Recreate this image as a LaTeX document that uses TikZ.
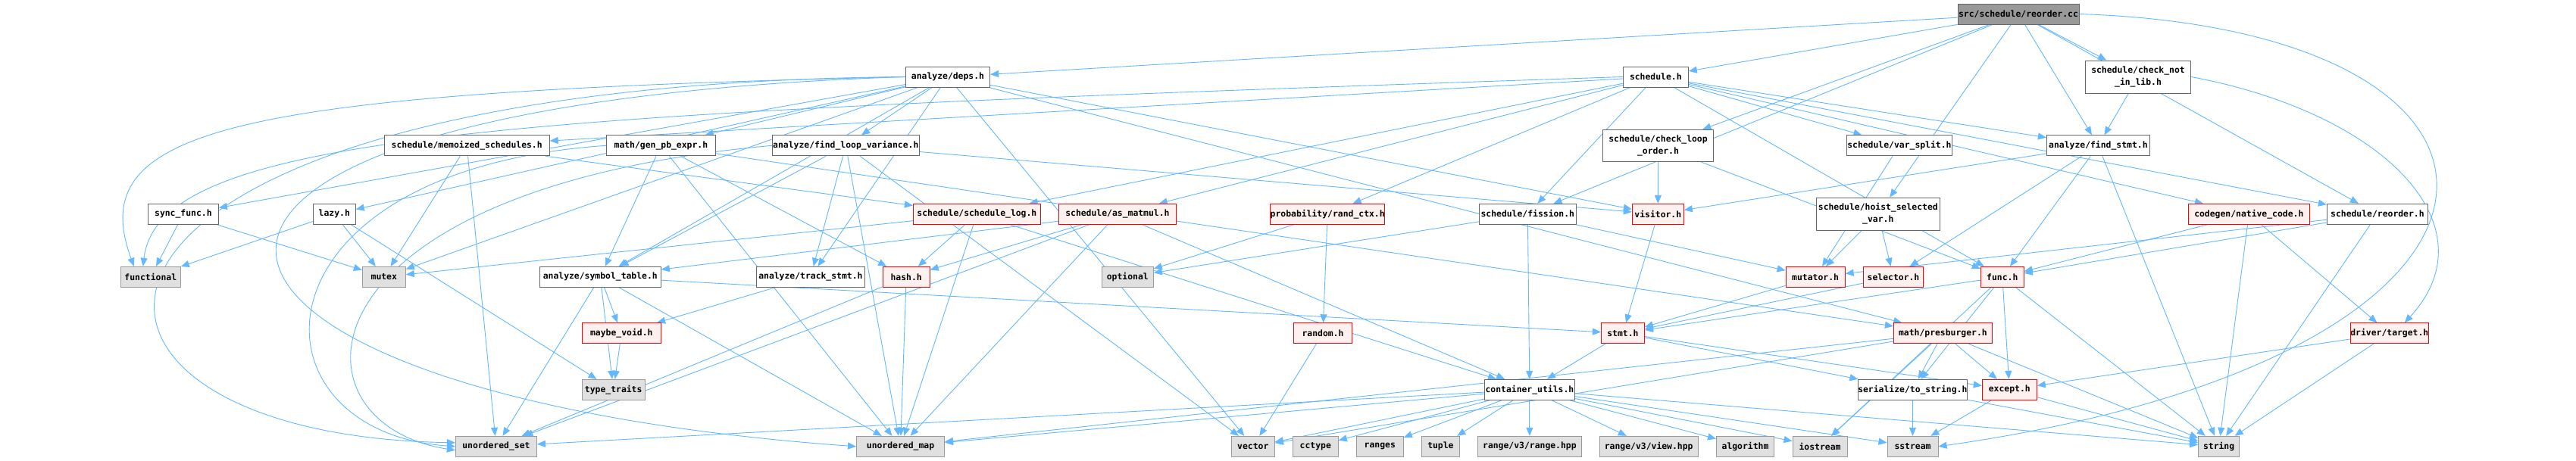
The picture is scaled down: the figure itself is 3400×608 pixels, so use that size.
\documentclass[tikz,border=0pt]{standalone}
\usepackage{fontspec}
\usetikzlibrary{arrows.meta}
\newfontfamily\dfont{DejaVu Sans Mono}
\definecolor{edgecol}{HTML}{63B8FF}
\definecolor{grayfill}{HTML}{E0E0E0}
\definecolor{grayline}{HTML}{999999}
\definecolor{darkline}{HTML}{666666}
\definecolor{redfill}{HTML}{FFF0F0}
\definecolor{srcfill}{HTML}{999999}
\pgfdeclarelayer{bg}
\pgfsetlayers{bg,main}
\tikzset{
  box/.style={line width=1pt, inner sep=0pt, align=center, minimum height=27pt,
    font=\dfont\bfseries\fontsize{11.4pt}{16pt}\selectfont},
  gnode/.style={box, draw=grayline, fill=grayfill},
  wnode/.style={box, draw=darkline, fill=white},
  rnode/.style={box, draw=red, fill=redfill},
  snode/.style={box, draw=darkline, fill=srcfill},
  dep/.style={draw=edgecol, line width=0.9pt, -{Triangle[length=11pt,width=9pt]}}
}
\begin{document}
\begin{tikzpicture}[x=1pt,y=-1pt]
\useasboundingbox (0,0) rectangle (3400,608);
% row 1
\node[snode, minimum width=160pt] (src) at (2664,18.5) {src/schedule/reorder.cc};
\node[wnode, minimum width=111pt] (deps) at (1251,101.5) {analyze/deps.h};
\node[wnode, minimum width=86pt] (schedule) at (2185.3,101.5) {schedule.h};
\node[wnode, minimum width=139pt, minimum height=43pt] (chknot) at (2822,101.5) {schedule/check\_not\\\_in\_lib.h};
% row 2
\node[wnode, minimum width=218pt] (memo) at (616.2,192.3) {schedule/memoized\_schedules.h};
\node[wnode, minimum width=144pt] (genpb) at (872.4,192.3) {math/gen\_pb\_expr.h};
\node[wnode, minimum width=194pt] (flv) at (1116.3,192.3) {analyze/find\_loop\_variance.h};
\node[wnode, minimum width=146pt, minimum height=42pt] (chkloop) at (2188.5,192.3) {schedule/check\_loop\\\_order.h};
\node[wnode, minimum width=139pt] (varsplit) at (2506.9,192.3) {schedule/var\_split.h};
\node[wnode, minimum width=136pt] (findstmt) at (2769.4,192.3) {analyze/find\_stmt.h};
% row 3
\node[wnode, minimum width=93pt] (syncfunc) at (241.9,282.8) {sync\_func.h};
\node[wnode, minimum width=56pt] (lazy) at (441.3,282.8) {lazy.h};
\node[rnode, minimum width=168pt] (schedlog) at (1289.4,282.8) {schedule/schedule\_log.h};
\node[rnode, minimum width=155pt] (asmatmul) at (1474.9,282.8) {schedule/as\_matmul.h};
\node[rnode, minimum width=148pt] (randctx) at (1752.2,282.8) {probability/rand\_ctx.h};
\node[wnode, minimum width=128pt] (fission) at (2016.3,282.8) {schedule/fission.h};
\node[rnode, minimum width=68pt] (visitor) at (2188.3,282.8) {visitor.h};
\node[wnode, minimum width=163pt, minimum height=43pt] (hoist) at (2478.8,282.7) {schedule/hoist\_selected\\\_var.h};
\node[rnode, minimum width=160pt] (native) at (2968.3,282.8) {codegen/native\_code.h};
\node[wnode, minimum width=133pt] (schreorder) at (3137.9,282.8) {schedule/reorder.h};
% row 4
\node[gnode, minimum width=79pt] (functional) at (198.8,365.8) {functional};
\node[gnode, minimum width=57pt] (mutex) at (506.8,365.8) {mutex};
\node[wnode, minimum width=160pt] (symtab) at (792.3,365.8) {analyze/symbol\_table.h};
\node[wnode, minimum width=143pt] (trackstmt) at (1069.9,365.8) {analyze/track\_stmt.h};
\node[rnode, minimum width=62pt] (hash) at (1196.2,365.8) {hash.h};
\node[gnode, minimum width=68pt] (optional) at (1488.3,365.8) {optional};
\node[rnode, minimum width=78pt] (mutator) at (2396.1,365.8) {mutator.h};
\node[rnode, minimum width=79pt] (selector) at (2499,365.8) {selector.h};
\node[rnode, minimum width=57pt] (func) at (2642.8,365.8) {func.h};
% row 5
\node[rnode, minimum width=104pt] (maybevoid) at (820.3,440.3) {maybe\_void.h};
\node[rnode, minimum width=77pt] (random) at (1746,440.3) {random.h};
\node[rnode, minimum width=57pt] (stmt) at (2141.9,440.3) {stmt.h};
\node[rnode, minimum width=130pt] (presburger) at (2564.4,440.3) {math/presburger.h};
\node[rnode, minimum width=103pt] (target) at (3153.8,440.3) {driver/target.h};
% row 6
\node[gnode, minimum width=83pt] (typetraits) at (809.7,514.8) {type\_traits};
\node[wnode, minimum width=119pt] (contutils) at (2018.9,514.8) {container\_utils.h};
\node[wnode, minimum width=136pt] (tostring) at (2524.3,514.8) {serialize/to\_string.h};
\node[rnode, minimum width=72pt] (except) at (2652.3,514.8) {except.h};
% row 7
\node[gnode, minimum width=107pt] (uset) at (654.9,589.8) {unordered\_set};
\node[gnode, minimum width=116pt] (umap) at (1188.5,589.8) {unordered\_map};
\node[gnode, minimum width=57pt] (vector) at (1653.8,589.8) {vector};
\node[gnode, minimum width=60pt] (cctype) at (1736.3,589.8) {cctype};
\node[gnode, minimum width=62pt] (ranges) at (1821.3,589.8) {ranges};
\node[gnode, minimum width=50pt] (tuple) at (1901.4,589.8) {tuple};
\node[gnode, minimum width=137pt] (rangehpp) at (2018.9,589.8) {range/v3/range.hpp};
\node[gnode, minimum width=130pt] (viewhpp) at (2176.2,589.8) {range/v3/view.hpp};
\node[gnode, minimum width=76pt] (algorithm) at (2303.5,589.8) {algorithm};
\node[gnode, minimum width=72pt] (iostream) at (2402,589.8) {iostream};
\node[gnode, minimum width=67pt] (sstream) at (2524.5,589.8) {sstream};
\node[gnode, minimum width=54pt] (string) at (2928.6,589.8) {string};

\begin{pgfonlayer}{bg}
\fill[white] (0,0) rectangle (3400,608);
\foreach \a/\b in {
  src/deps, src/schedule, src/chknot, src/findstmt, src/chkloop, src/hoist, src/fission, src/schreorder,
  schedule/memo, schedule/varsplit, schedule/findstmt, schedule/schedlog, schedule/asmatmul,
  schedule/randctx, schedule/fission, schedule/native, schedule/schreorder, schedule/func,
  deps/mutex, deps/vector, deps/flv, deps/symtab, deps/trackstmt, deps/genpb, deps/presburger,
  deps/lazy, deps/syncfunc, deps/visitor,
  memo/mutex, memo/uset, memo/schedlog,
  genpb/symtab, genpb/hash, genpb/umap, genpb/presburger,
  flv/symtab, flv/trackstmt, flv/visitor, flv/umap, flv/vector,
  chkloop/visitor, chkloop/func, varsplit/mutator,
  findstmt/visitor, findstmt/func, findstmt/selector, findstmt/string,
  chknot/findstmt,
  schedlog/hash, schedlog/mutex, schedlog/umap, schedlog/contutils,
  asmatmul/symtab, asmatmul/hash, asmatmul/uset, asmatmul/umap, asmatmul/contutils,
  randctx/random, randctx/optional,
  fission/mutator, fission/contutils, fission/optional,
  visitor/stmt, hoist/mutator, hoist/selector,
  native/func, native/target, native/string,
  schreorder/mutator, schreorder/func, schreorder/string,
  symtab/maybevoid, symtab/typetraits, symtab/uset, symtab/umap, symtab/stmt,
  trackstmt/maybevoid, hash/umap, hash/uset,
  mutator/stmt, selector/stmt,
  func/stmt, func/iostream, func/tostring, func/except, func/string,
  maybevoid/typetraits, random/vector,
  stmt/contutils, stmt/tostring, stmt/except,
  presburger/tostring, presburger/except, presburger/iostream, presburger/string,
  presburger/umap, presburger/vector,
  target/string, target/except,
  contutils/uset, contutils/umap, contutils/vector, contutils/cctype, contutils/ranges,
  contutils/tuple, contutils/rangehpp, contutils/viewhpp, contutils/algorithm,
  contutils/iostream, contutils/sstream, contutils/string,
  tostring/sstream, tostring/string, except/sstream, except/string,
  lazy/functional, lazy/mutex, lazy/typetraits,
  syncfunc/functional, syncfunc/mutex}
  {\draw[dep] (\a) -- (\b);}
% routed curves
\draw[dep] (deps.west) .. controls (300,122) and (110,170) .. ([xshift=-22pt]functional.north);
\draw[dep] (schedule.west) .. controls (700,150) and (210,170) .. ([xshift=-10pt]functional.north);
\draw[dep] (deps.west) .. controls (0,112) and (0,575) .. ([yshift=5pt]uset.west);
\draw[dep] (deps.west) .. controls (40,140) and (160,520) .. (umap.west);
\draw[dep] (genpb.west) .. controls (320,225) and (320,570) .. (uset.west);
\draw[dep] (flv.west) .. controls (380,250) and (375,560) .. ([yshift=-5pt]uset.west);
\draw[dep] (src.east) .. controls (3400,40) and (3400,470) .. (sstream.east);
\draw[dep] (chknot.east) .. controls (3150,150) and (3290,300) .. ([xshift=20pt]target.north);
\end{pgfonlayer}
\end{tikzpicture}
\end{document}
